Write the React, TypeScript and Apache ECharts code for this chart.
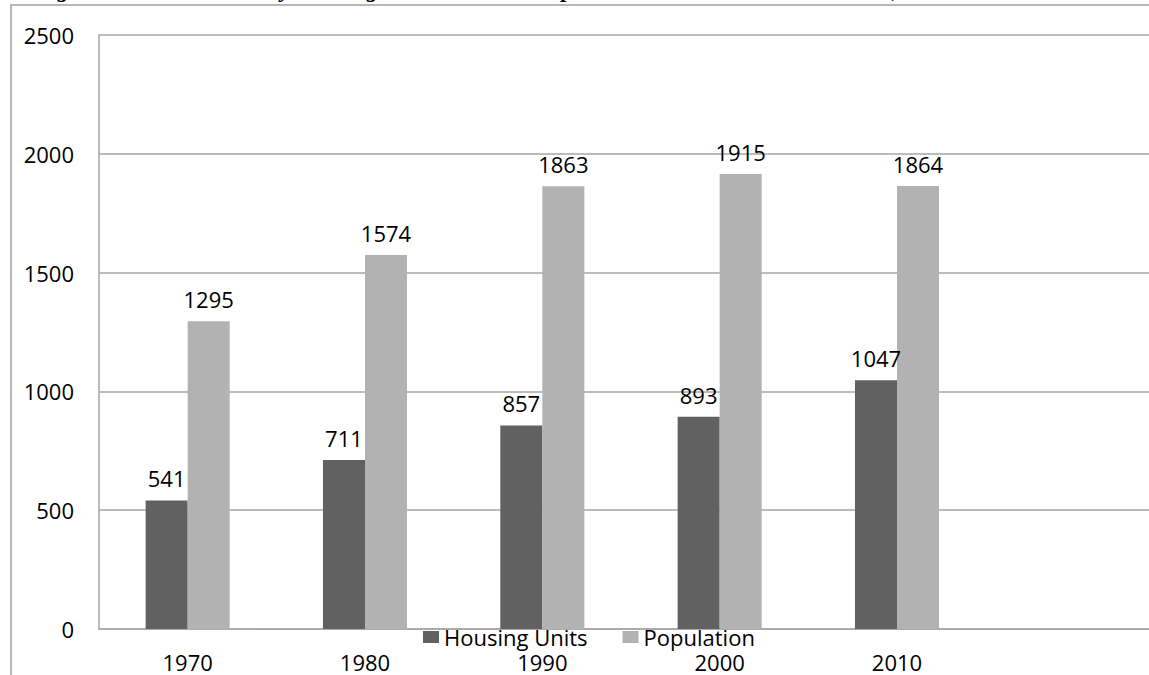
import React, { useEffect, useRef } from "react";
import * as echarts from "echarts";

const categories = ["1970", "1980", "1990", "2000", "2010", ""];
const housingUnits = [541, 711, 857, 893, 1047, null];
const population = [1295, 1574, 1863, 1915, 1864, null];
const titleText =
  "Figure 12: Hebron County Housing Units and Total Population Trends in Windham Town, 1970 - 2010";

const FONT = "'Open Sans', sans-serif";
const GRID_COLOR = "#a6a6a6";

export default function App() {
  const ref = useRef<HTMLDivElement>(null);
  useEffect(() => {
    if (!ref.current) return;
    const chart = echarts.init(ref.current, null, { renderer: "svg" });
    const labelStyle = {
      show: true,
      position: "top" as const,
      distance: 11,
      color: "#000",
      fontFamily: FONT,
      fontSize: 22,
    };
    chart.setOption({
      animation: false,
      backgroundColor: "#fff",
      textStyle: { fontFamily: FONT },
      graphic: [
        {
          type: "text",
          x: 36,
          y: -11,
          style: {
            text: titleText,
            font: "italic bold 23px 'Liberation Serif', serif",
            fill: "#000",
            verticalAlign: "middle",
          },
          silent: true,
        },
        {
          type: "rect",
          shape: { x: 11, y: 5, width: 1300, height: 800 },
          style: { fill: "none", stroke: "#a0a0a0", lineWidth: 1.5 },
          silent: true,
        },
      ],
      grid: { left: 99, top: 35, bottom: 46, right: 0, containLabel: false },
      legend: {
        data: ["Housing Units", "Population"],
        left: 418,
        top: 621,
        icon: "rect",
        itemWidth: 16,
        itemHeight: 12,
        itemGap: 35,
        textStyle: { fontFamily: FONT, fontSize: 22, color: "#000" },
      },
      xAxis: {
        type: "category",
        data: categories,
        axisTick: { show: false },
        axisLine: { show: true, lineStyle: { color: GRID_COLOR, width: 1.5 } },
        axisLabel: { color: "#000", fontFamily: FONT, fontSize: 22, margin: 22 },
      },
      yAxis: {
        type: "value",
        min: 0,
        max: 2500,
        interval: 500,
        axisTick: { show: false },
        axisLine: { show: true, lineStyle: { color: GRID_COLOR, width: 1.5 } },
        splitLine: { show: true, lineStyle: { color: GRID_COLOR, width: 1.5 } },
        axisLabel: {
          color: "#000",
          fontFamily: FONT,
          fontSize: 22,
          margin: 25,
          formatter: (v: number) => String(v),
        },
      },
      series: [
        {
          name: "Housing Units",
          type: "bar",
          data: housingUnits,
          itemStyle: { color: "#616161" },
          barGap: "0%",
          barCategoryGap: "52.6%",
          label: labelStyle,
        },
        {
          name: "Population",
          type: "bar",
          data: population,
          itemStyle: { color: "#b2b2b2" },
          barGap: "0%",
          barCategoryGap: "52.6%",
          label: labelStyle,
        },
      ],
    });
    return () => chart.dispose();
  }, []);
  return (
    <div
      style={{ position: "fixed", left: 0, top: 0, width: 1149, height: 675, overflow: "hidden" }}
    >
      <div ref={ref} style={{ width: 1163, height: 675 }} />
    </div>
  );
}
